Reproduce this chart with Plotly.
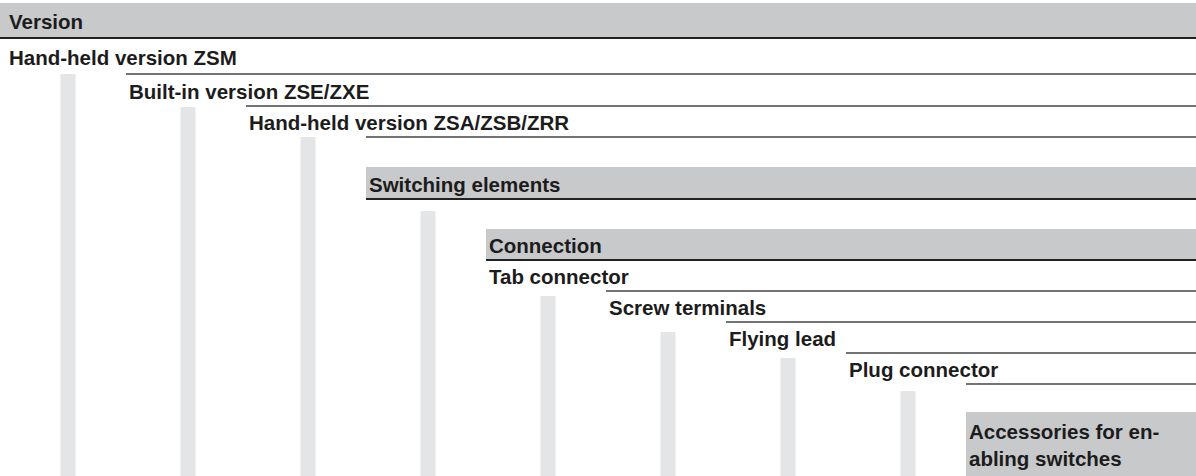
import plotly.graph_objects as go

# ---- data -------------------------------------------------------------
labels = [
    "Version",
    "Hand-held version ZSM",
    "Built-in version ZSE/ZXE",
    "Hand-held version ZSA/ZSB/ZRR",
    "Switching elements",
    "Connection",
    "Tab connector",
    "Screw terminals",
    "Flying lead",
    "Plug connector",
    "Accessories for en-<br>abling switches",
]
levels = [0, 0, 1, 2, 3, 4, 4, 5, 6, 7, 8]          # column (indent) of each entry
rows = [0, 1, 2, 3, 5, 7, 8, 9, 10, 11, 13]           # row index of each entry
kinds = ["header", "item", "item", "item", "header", "header",
         "item", "item", "item", "item", "header"]
has_stem = [False, True, True, True, True, False, True, True, True, True, False]

# ---- geometry / style ---------------------------------------------------
W, H = 1196, 476
ROW_EDGES = [3, 38, 74, 106, 137, 167, 199, 229, 260, 291, 322, 353, 384, 412, 476]
COL_STEP, COL_OFF = 120, 6
STEM_GAP = [0, 0, 1, 0, 12, 0, 5, 10, 5, 7, 0]
STEM_W = 15
BAND = "#c8c9cb"
STEM = "#e4e5e7"
TEXT = "#1c1c1c"
FONT = "Liberation Sans, Arial, sans-serif"


def col_x(level):
    return COL_OFF + COL_STEP * level


fig = go.Figure()
shapes, annos = [], []

for i, lab in enumerate(labels):
    lv, r, kind = levels[i], rows[i], kinds[i]
    y0, y1 = ROW_EDGES[r], ROW_EDGES[r + 1]
    x_start = 0 if lv == 0 else col_x(lv)
    if kind == "header":
        shapes.append(dict(type="rect", xref="x", yref="y", x0=x_start, x1=W,
                           y0=y0, y1=y1, fillcolor=BAND, line_width=0, layer="below"))
        if y1 < H:
            shapes.append(dict(type="line", xref="x", yref="y", x0=x_start, x1=W,
                               y0=y1, y1=y1, line=dict(color="#222222", width=2)))
    else:
        lx = col_x(lv + 1)
        shapes.append(dict(type="line", xref="x", yref="y", x0=lx, x1=W,
                           y0=y1, y1=y1, line=dict(color="#444444", width=1.6)))
    if has_stem[i]:
        cx = col_x(lv) + 62
        shapes.append(dict(type="rect", xref="x", yref="y",
                           x0=cx - STEM_W / 2, x1=cx + STEM_W / 2,
                           y0=y1 + STEM_GAP[i], y1=H,
                           fillcolor=STEM, line_width=0, layer="below"))
    annos.append(dict(x=col_x(lv) + 3, y=(y0 + y1) / 2 + 1, xref="x", yref="y",
                      text=lab, showarrow=False, xanchor="left", yanchor="middle",
                      align="left", borderpad=0, borderwidth=0,
                      font=dict(family=FONT, size=20.5, color=TEXT, weight=700)))

# invisible trace to anchor the axes
fig.add_trace(go.Scatter(x=[0, W], y=[0, H], mode="markers",
                         marker=dict(opacity=0), hoverinfo="skip", showlegend=False))

fig.update_layout(
    width=W, height=H, autosize=False,
    margin=dict(l=0, r=0, t=0, b=0),
    paper_bgcolor="white", plot_bgcolor="white",
    xaxis=dict(range=[0, W], visible=False, fixedrange=True),
    yaxis=dict(range=[H, 0], visible=False, fixedrange=True),
    shapes=shapes, annotations=annos, showlegend=False,
)

fig.write_html("out.html", config={"displayModeBar": False},
               post_script="document.body.style.margin='0';document.body.style.overflow='hidden';")
